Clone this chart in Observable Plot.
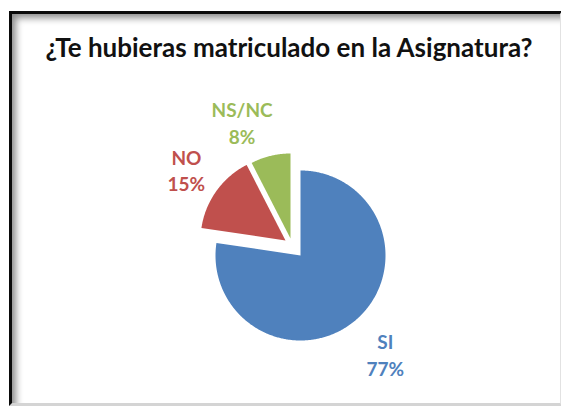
<!DOCTYPE html>
<html><head><meta charset="utf-8">
<script src="https://cdn.jsdelivr.net/npm/d3@7"></script>
<script src="https://cdn.jsdelivr.net/npm/@observablehq/plot@0.6"></script>
<style>
body{margin:0;background:#fff}
#wrap{position:relative;width:561px;height:406px;overflow:hidden;font-family:Lato,"Open Sans",sans-serif}
#frame{position:absolute;left:9px;top:11px;width:548px;height:389px;border-left:3px solid #0a0a0a;border-top:3px solid #0a0a0a;border-right:2px solid #e2e2e2;border-bottom:3px solid #d4d4d4;box-shadow:inset 6px 6px 7px -2px rgba(0,0,0,0.45);}
#title{position:absolute;left:14px;width:550px;top:34px;text-align:center;font-weight:bold;font-size:26px;line-height:26px;color:#111;white-space:nowrap}
#chart{position:absolute;left:0;top:0}
</style></head><body>
<div id="wrap"><div id="frame"></div><div id="title"></div><div id="chart"></div></div>
<script>
const title = "¿Te hubieras matriculado en la Asignatura?";
const categories = ["SI", "NO", "NS/NC"];
const counts = [41, 8, 4];
const percentLabels = ["77%", "15%", "8%"];

// styles
const colors = ["#4F81BD", "#C0504D", "#9BBB59"];
const CX = 300, CY = 255, R = 85;
const explode = {"SI": [0, 0], "NO": [-15, -15], "NS/NC": [-10, -17]};
const labelDist = {"SI": 130, "NO": 122, "NS/NC": 126};
const labelShift = {"SI": 0, "NO": 0, "NS/NC": -9 * Math.PI / 180};

document.getElementById("title").textContent = title;

const arcs = d3.pie().sort(null).startAngle(0).endAngle(2 * Math.PI)(counts);
const pts = [];
const labels = [];
arcs.forEach((a, i) => {
  const cat = categories[i];
  const [ox, oy] = explode[cat];
  const cx = CX + ox, cy = CY + oy;
  pts.push({cat, x: cx, y: cy});
  const n = Math.max(2, Math.ceil((a.endAngle - a.startAngle) / 0.01));
  for (let k = 0; k <= n; k++) {
    const t = a.startAngle + (a.endAngle - a.startAngle) * k / n;
    pts.push({cat, x: cx + R * Math.sin(t), y: cy - R * Math.cos(t)});
  }
  const mid = (a.startAngle + a.endAngle) / 2 + labelShift[cat];
  labels.push({cat, text: cat + "\n" + percentLabels[i],
    x: cx + labelDist[cat] * Math.sin(mid), y: cy - labelDist[cat] * Math.cos(mid)});
});

const chart = Plot.plot({
  width: 561, height: 406, margin: 0,
  x: {domain: [0, 561], range: [0, 561], axis: null},
  y: {domain: [0, 406], range: [0, 406], axis: null},
  color: {domain: categories, range: colors},
  style: {background: "transparent", overflow: "visible"},
  marks: [
    Plot.line(pts, {x: "x", y: "y", z: "cat", fill: "cat", stroke: "none"}),
    Plot.text(labels, {x: "x", y: "y", text: "text", fill: "cat", fontSize: 19,
      fontWeight: "bold", lineHeight: 1.42, fontFamily: "Lato"})
  ]
});
document.getElementById("chart").appendChild(chart);
</script>
</body></html>
